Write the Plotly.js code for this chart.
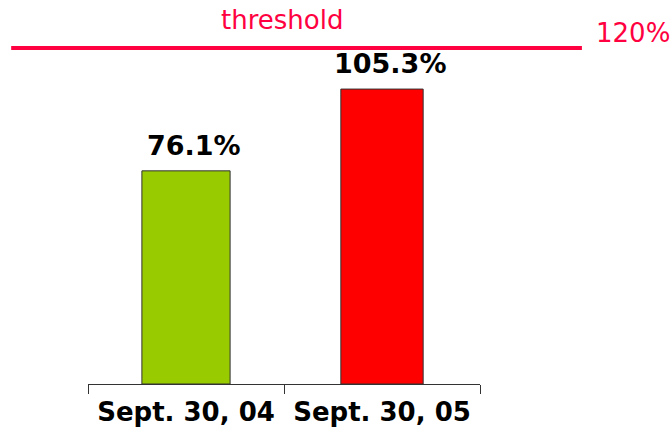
<!DOCTYPE html>
<html><head><meta charset="utf-8">
<script src="https://cdn.plot.ly/plotly-3.0.1.min.js"></script>
<style>html,body{margin:0;padding:0;background:#fff}#chart{width:671px;height:427px}</style>
</head><body><div id="chart"></div>
<script>
var categories = ["Sept. 30, 04", "Sept. 30, 05"];
var values = [76.1, 105.3];
var valueLabels = ["76.1%", "105.3%"];
var barColors = ["#99cc00", "#ff0000"];
var thresholdValue = 120;
var thresholdLabel = "threshold";
var thresholdValueLabel = "120%";

var FONT = "DejaVu Sans, Verdana, sans-serif";
var RED = "#ff0040";

var trace = {
  type: "bar",
  x: categories,
  y: values,
  width: [0.45, 0.42],
  marker: {color: barColors, line: {color: "#333333", width: 1}},
  hoverinfo: "skip"
};

var annotations = categories.map(function(c, i) {
  return {
    x: c, y: values[i], xref: "x", yref: "y",
    text: valueLabels[i], showarrow: false,
    xanchor: "center", yanchor: "bottom", xshift: 8, yshift: 8,
    font: {family: FONT, size: 27, color: "#000", weight: "bold"}
  };
});
annotations.push({
  x: 0.495, xref: "paper", y: thresholdValue, yref: "y",
  text: thresholdLabel, showarrow: false, xanchor: "center", yanchor: "bottom", yshift: 11,
  font: {family: FONT, size: 26, color: RED}
});
annotations.push({
  x: 1.29, xref: "paper", y: thresholdValue, yref: "y",
  text: thresholdValueLabel, showarrow: false, xanchor: "left", yanchor: "middle", yshift: 15,
  font: {family: FONT, size: 26, color: RED}
});

var layout = {
  width: 671, height: 427,
  margin: {l: 88, r: 191, t: 0, b: 43},
  paper_bgcolor: "#fff", plot_bgcolor: "#fff",
  showlegend: false,
  xaxis: {
    type: "category",
    showline: true, linecolor: "#333", linewidth: 1,
    ticks: "outside", tickson: "boundaries", ticklen: 9, tickcolor: "#333", tickwidth: 1,
    ticklabelstandoff: 5,
    tickfont: {family: FONT, size: 26, color: "#000", weight: "bold"},
    showgrid: false, zeroline: false, fixedrange: true
  },
  yaxis: {
    range: [0, 137.1],
    visible: false, showgrid: false, zeroline: false, fixedrange: true
  },
  shapes: [{
    type: "line", xref: "paper", yref: "y",
    x0: -0.196, x1: 1.26, y0: thresholdValue, y1: thresholdValue,
    line: {color: RED, width: 4}, layer: "above"
  }],
  annotations: annotations
};

Plotly.newPlot("chart", [trace], layout, {displayModeBar: false, staticPlot: true});
</script></body></html>
